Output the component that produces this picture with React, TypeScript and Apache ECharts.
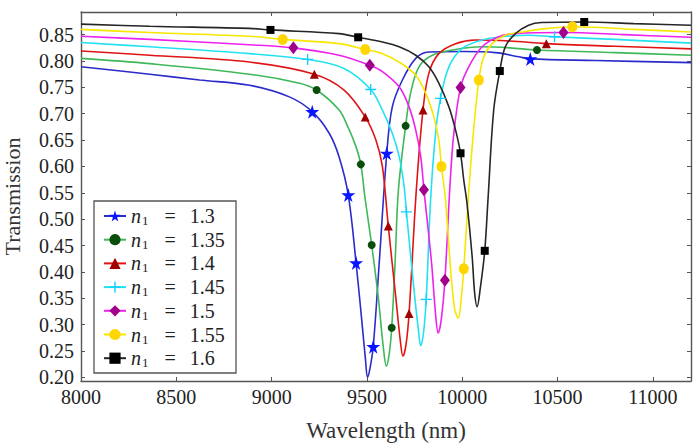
import React, { useEffect, useRef } from 'react';
import * as echarts from 'echarts';

const FONT = 'Times New Roman';

const yTickValues = [0.2, 0.25, 0.3, 0.35, 0.4, 0.45, 0.5, 0.55, 0.6, 0.65, 0.7, 0.75, 0.8, 0.85];

const legendNames = ['1.3', '1.35', '1.4', '1.45', '1.5', '1.55', '1.6'];

const curve13: [number, number][] = [
  [8000, 0.789], [8361, 0.775], [8622, 0.764], [8884, 0.754], [9093, 0.732], [9213, 0.704],
  [9302, 0.663], [9354, 0.618], [9402, 0.546], [9443, 0.417], [9475, 0.3], [9492, 0.235],
  [9503, 0.2], [9515, 0.215], [9533, 0.258], [9565, 0.42], [9604, 0.625], [9633, 0.713],
  [9686, 0.764], [9756, 0.805], [9825, 0.817], [10000, 0.818], [10174, 0.816], [10296, 0.808],
  [10357, 0.804], [10700, 0.801], [11200, 0.797],
];
const marks13 = [9213, 9402, 9443, 9533, 9604, 10357];

const curve135: [number, number][] = [
  [8000, 0.805], [8361, 0.795], [8884, 0.775], [9146, 0.758], [9236, 0.745], [9354, 0.707],
  [9400, 0.675], [9440, 0.64], [9468, 0.604], [9490, 0.54], [9525, 0.451], [9560, 0.35],
  [9585, 0.26], [9602, 0.221], [9617, 0.245], [9630, 0.294], [9648, 0.42], [9665, 0.555],
  [9703, 0.677], [9729, 0.739], [9773, 0.789], [9843, 0.811], [9965, 0.822], [10100, 0.827],
  [10250, 0.825], [10392, 0.821], [10800, 0.816], [11200, 0.811],
];
const marks135 = [9236, 9468, 9525, 9630, 9703, 10392];

const curve14: [number, number][] = [
  [8000, 0.819], [8361, 0.811], [8884, 0.798], [9224, 0.775], [9380, 0.745], [9491, 0.694],
  [9547, 0.65], [9581, 0.6], [9612, 0.487], [9651, 0.353], [9675, 0.27], [9689, 0.24],
  [9705, 0.262], [9721, 0.321], [9759, 0.555], [9794, 0.707], [9825, 0.777], [9877, 0.814],
  [9965, 0.833], [10069, 0.84], [10250, 0.838], [10441, 0.833], [10800, 0.828], [11200, 0.823],
];
const marks14 = [9224, 9491, 9612, 9721, 9794, 10441];

const curve145: [number, number][] = [
  [8000, 0.835], [8361, 0.827], [8884, 0.814], [9189, 0.803], [9380, 0.786], [9520, 0.746],
  [9581, 0.707], [9633, 0.663], [9669, 0.619], [9695, 0.562], [9707, 0.514], [9747, 0.366],
  [9770, 0.29], [9782, 0.26], [9797, 0.285], [9811, 0.348], [9834, 0.537], [9860, 0.663],
  [9886, 0.729], [9930, 0.789], [10000, 0.824], [10104, 0.84], [10209, 0.846], [10350, 0.849],
  [10484, 0.846], [10800, 0.841], [11200, 0.834],
];
const marks145 = [9189, 9520, 9707, 9811, 9886, 10484];

const curve15: [number, number][] = [
  [8000, 0.847], [8361, 0.841], [8884, 0.831], [9114, 0.825], [9354, 0.811], [9515, 0.792],
  [9581, 0.78], [9669, 0.751], [9721, 0.713], [9756, 0.669], [9782, 0.619], [9799, 0.556],
  [9839, 0.417], [9860, 0.32], [9874, 0.284], [9890, 0.31], [9909, 0.384], [9935, 0.56],
  [9955, 0.66], [9991, 0.75], [10034, 0.789], [10104, 0.827], [10191, 0.846], [10279, 0.852],
  [10531, 0.854], [10850, 0.85], [11200, 0.845],
];
const marks15 = [9114, 9515, 9799, 9909, 9991, 10531];

const curve155: [number, number][] = [
  [8000, 0.86], [8361, 0.854], [8884, 0.847], [9058, 0.841], [9354, 0.833], [9491, 0.822],
  [9581, 0.814], [9669, 0.798], [9756, 0.773], [9808, 0.739], [9851, 0.694], [9877, 0.65],
  [9891, 0.6], [9912, 0.537], [9940, 0.4], [9960, 0.33], [9979, 0.312], [9995, 0.35],
  [10008, 0.406], [10031, 0.536], [10055, 0.65], [10087, 0.764], [10113, 0.808], [10157, 0.833],
  [10226, 0.849], [10313, 0.855], [10450, 0.862], [10578, 0.865], [10900, 0.86], [11200, 0.855],
];
const marks155 = [9058, 9491, 9891, 10008, 10087, 10578];

const curve16: [number, number][] = [
  [8000, 0.87], [8361, 0.866], [8884, 0.862], [8994, 0.859], [9354, 0.852], [9454, 0.845],
  [9581, 0.836], [9669, 0.827], [9756, 0.811], [9825, 0.789], [9877, 0.758], [9930, 0.713],
  [9965, 0.669], [9991, 0.625], [10008, 0.574], [10025, 0.53], [10052, 0.429], [10065, 0.36],
  [10078, 0.334], [10095, 0.37], [10118, 0.44], [10135, 0.537], [10165, 0.707], [10197, 0.781],
  [10226, 0.827], [10279, 0.852], [10348, 0.868], [10416, 0.873], [10640, 0.874], [10900, 0.871],
  [11200, 0.868],
];
const marks16 = [8994, 9454, 9991, 10118, 10197, 10640];

const STAR = 'path://M50,0 L61,35 L98,35 L68,57 L79,91 L50,70 L21,91 L32,57 L2,35 L39,35 Z';
const PLUS = 'path://M44,0 H56 V44 H100 V56 H56 V100 H44 V56 H0 V44 H44 Z';

const seriesDefs = [
  { name: legendNames[0], pts: curve13, marks: marks13, line: '#2b2bcc', mark: '#0a14ff', symbol: STAR, size: 14 },
  { name: legendNames[1], pts: curve135, marks: marks135, line: '#3fb85a', mark: '#0b4d0b', symbol: 'circle', size: 8 },
  { name: legendNames[2], pts: curve14, marks: marks14, line: '#e01414', mark: '#a00000', symbol: 'triangle', size: 9 },
  { name: legendNames[3], pts: curve145, marks: marks145, line: '#22e2f2', mark: '#10cfff', symbol: PLUS, size: 11 },
  { name: legendNames[4], pts: curve15, marks: marks15, line: '#ee22ee', mark: '#a0008c', symbol: 'diamond', size: [10, 13] },
  { name: legendNames[5], pts: curve155, marks: marks155, line: '#f7e600', mark: '#ffd600', symbol: 'circle', size: [10, 11] },
  { name: legendNames[6], pts: curve16, marks: marks16, line: '#262626', mark: '#000000', symbol: 'rect', size: 8 },
];

export default function App() {
  const ref = useRef<HTMLDivElement>(null);
  useEffect(() => {
    document.body.style.margin = '0';
    const chart = echarts.init(ref.current!, null, { renderer: 'svg' });
    const axisColor = '#555';
    const tickStyle = { inside: true, length: 4, lineStyle: { color: axisColor, width: 1 } };
    const lineStyle = { lineStyle: { color: axisColor, width: 1.4 } };
    const tok = { fontFamily: FONT, fontSize: 20, color: '#222', lineHeight: 22 };
    chart.setOption({
      animation: false,
      backgroundColor: '#fff',
      textStyle: { fontFamily: FONT },
      grid: { left: 81, right: 9, top: 12, bottom: 63, containLabel: false, outerBoundsMode: 'none' },
      xAxis: [
        {
          type: 'value', min: 8000, max: 11200, interval: 500, position: 'bottom',
          axisLine: { onZero: false, ...lineStyle }, axisTick: tickStyle, splitLine: { show: false },
          axisLabel: {
            showMaxLabel: false, fontFamily: FONT, fontSize: 20, color: '#222', margin: 6,
            formatter: (v: number) => String(v),
          },
          name: 'Wavelength (nm)', nameLocation: 'middle', nameGap: 38, nameMoveOverlap: false,
          nameTextStyle: { fontFamily: FONT, fontSize: 23, color: '#333' },
        },
        {
          type: 'value', min: 8000, max: 11200, interval: 500, position: 'top',
          axisLine: { onZero: false, ...lineStyle }, axisTick: tickStyle, splitLine: { show: false },
          axisLabel: { show: false },
        },
      ],
      yAxis: [
        {
          type: 'value', min: 0.193, max: 0.893, position: 'left',
          axisLine: { onZero: false, show: true, ...lineStyle },
          axisTick: { ...tickStyle, customValues: yTickValues }, splitLine: { show: false },
          axisLabel: {
            customValues: yTickValues, fontFamily: FONT, fontSize: 20, color: '#222', margin: 7,
            formatter: (v: number) => v.toFixed(2),
          },
          name: 'Transmission', nameLocation: 'middle', nameGap: 58, nameMoveOverlap: false,
          nameTextStyle: { fontFamily: FONT, fontSize: 22, color: '#333' },
        },
        {
          type: 'value', min: 0.193, max: 0.893, position: 'right',
          axisLine: { onZero: false, show: true, ...lineStyle },
          axisTick: { ...tickStyle, customValues: yTickValues }, splitLine: { show: false },
          axisLabel: { show: false },
        },
      ],
      legend: {
        orient: 'vertical', left: 94, top: 201,
        padding: [4, 8, 4, 9], itemGap: 1.7, itemWidth: 22, itemHeight: 14,
        data: legendNames,
        formatter: (name: string) => `{n|n}{s|1}{e|=}{v|${name}}`,
        textStyle: {
          ...tok,
          rich: {
            n: { ...tok, fontStyle: 'italic' },
            s: { fontFamily: FONT, fontSize: 13, color: '#222', lineHeight: 13, verticalAlign: 'bottom', padding: [0, 0, 0, 1] },
            e: { ...tok, padding: [0, 14, 0, 16] },
            v: { ...tok },
          },
        },
      },
      graphic: [
        {
          type: 'rect', z: 3,
          shape: { x: 94, y: 201, width: 142, height: 172 },
          style: { fill: '#fff', stroke: '#555', lineWidth: 1.3 },
        },
      ],
      series: seriesDefs.map((d) => ({
        type: 'line', name: d.name, xAxisIndex: 0, yAxisIndex: 0,
        smooth: 0.35, showAllSymbol: true, symbol: d.symbol, symbolSize: d.size,
        itemStyle: { color: d.mark },
        lineStyle: { color: d.line, width: 1.6 },
        emphasis: { disabled: true },
        data: d.pts.map(([x, y]) => (d.marks.includes(x) ? [x, y] : { value: [x, y], symbol: 'none' })),
      })),
    });
    return () => chart.dispose();
  }, []);
  return <div ref={ref} style={{ position: 'absolute', left: 0, top: 0, width: 700, height: 444 }} />;
}
